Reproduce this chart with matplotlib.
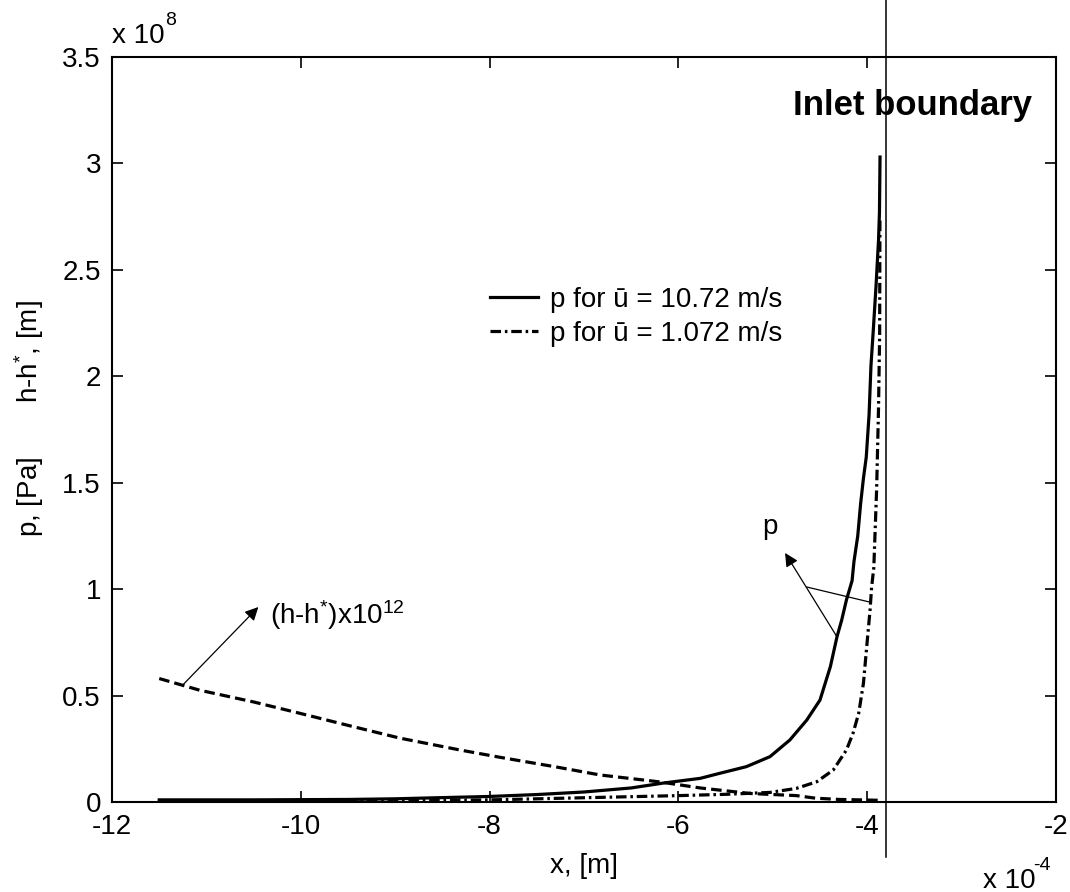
import matplotlib
matplotlib.use("Agg")
import matplotlib.pyplot as plt

plt.rcParams["font.family"] = ["Liberation Sans", "DejaVu Sans"]
plt.rcParams["font.size"] = 20
plt.rcParams["mathtext.fontset"] = "custom"
plt.rcParams["mathtext.rm"] = "Liberation Sans"
plt.rcParams["mathtext.it"] = "Liberation Sans:italic"
plt.rcParams["mathtext.bf"] = "Liberation Sans:bold"

# x in units of 1e-4 m, pressure in units of 1e8 Pa
x_fast = [-11.5, -10.5, -9.5, -9.0, -8.56, -8.0, -7.5, -7.0, -6.5, -6.16, -5.77,
          -5.56, -5.28, -5.03, -4.82, -4.64, -4.5, -4.39, -4.32, -4.27, -4.22,
          -4.16, -4.14, -4.10, -4.07, -4.04, -4.01, -3.98, -3.96, -3.935, -3.907,
          -3.88, -3.87, -3.864]
p_fast = [0.01, 0.01, 0.012, 0.015, 0.02, 0.026, 0.035, 0.047, 0.066, 0.089, 0.111,
          0.135, 0.166, 0.213, 0.291, 0.385, 0.479, 0.636, 0.776, 0.855, 0.949,
          1.04, 1.13, 1.25, 1.40, 1.52, 1.62, 1.82, 2.05, 2.22, 2.42,
          2.64, 2.77, 3.03]

x_slow = [-11.5, -10.0, -9.0, -8.5, -8.0, -7.0, -6.0, -5.5, -5.03, -4.75, -4.535,
          -4.36, -4.22, -4.15, -4.09, -4.04, -4.005, -3.97, -3.953, -3.93, -3.90,
          -3.88, -3.868, -3.865]
p_slow = [0.004, 0.005, 0.006, 0.008, 0.01, 0.02, 0.03, 0.036, 0.045, 0.064, 0.095,
          0.15, 0.244, 0.323, 0.417, 0.557, 0.73, 0.9, 1.01, 1.1, 1.47,
          1.85, 2.2, 2.75]

# film thickness deviation, scaled by 1e12
x_film = [-11.5, -11.07, -10.5, -10.04, -9.5, -8.95, -8.31, -7.89, -7.3, -6.83,
          -6.19, -5.77, -5.24, -4.75, -4.55, -4.3, -3.87]
h_film = [0.58, 0.525, 0.47, 0.42, 0.36, 0.30, 0.244, 0.21, 0.165, 0.127,
          0.094, 0.066, 0.04, 0.03, 0.018, 0.012, 0.008]

x_inlet = -3.8

x_ticks = [-12, -10, -8, -6, -4, -2]
y_ticks = [0, 0.5, 1, 1.5, 2, 2.5, 3, 3.5]
y_tick_labels = ["0", "0.5", "1", "1.5", "2", "2.5", "3", "3.5"]

fig = plt.figure(figsize=(10.7, 8.92), dpi=100)
ax = fig.add_axes([0.1047, 0.1009, 0.8822, 0.8352])

ax.plot(x_fast, p_fast, color="k", lw=2.3, label="p for ū = 10.72 m/s")
ax.plot(x_slow, p_slow, color="k", lw=2.3, linestyle=(0, (3.3, 1.2, 0.8, 1.2)),
        label="p for ū = 1.072 m/s")
ax.plot(x_film, h_film, color="k", lw=2.3, linestyle=(0, (3.3, 1.6)))

# inlet boundary, running past the frame on both ends
ax.plot([x_inlet, x_inlet], [-0.26, 3.8], color="k", lw=1.1, clip_on=False)
ax.text(-4.79, 3.27, "Inlet boundary", fontsize=25, fontweight="bold",
        ha="left", va="center")

arrow = dict(arrowstyle="-|>", color="k", lw=0.9, mutation_scale=20,
             shrinkA=0, shrinkB=0)
ax.annotate("", xy=(-10.45, 0.916), xytext=(-11.25, 0.55), arrowprops=arrow)
ax.text(-10.33, 0.88, "(h-h$^{*}$)x10$^{12}$", ha="left", va="center")

ax.annotate("", xy=(-4.87, 1.17), xytext=(-4.32, 0.776), arrowprops=arrow)
ax.plot([-4.64, -3.98], [1.01, 0.94], color="k", lw=0.9)
ax.text(-5.03, 1.29, "p", ha="center", va="center")

ax.legend(loc="upper left", bbox_to_anchor=(0.4004, 0.6912), frameon=False,
          borderpad=0, borderaxespad=0, handlelength=1.73, handletextpad=0.43,
          labelspacing=0.29, fontsize=20)

ax.set_xlim(-12, -2)
ax.set_ylim(0, 3.5)
ax.set_xticks(x_ticks)
ax.set_xticklabels([str(t) for t in x_ticks])
ax.set_yticks(y_ticks)
ax.set_yticklabels(y_tick_labels)
ax.tick_params(direction="in", length=8, width=1.2, top=True, right=True,
               labelsize=20)
ax.tick_params(axis="x", pad=9)
ax.tick_params(axis="y", pad=8)
for spine in ax.spines.values():
    spine.set_linewidth(1.5)

ax.set_xlabel("x, [m]")
ax.xaxis.set_label_coords(0.5, -0.068)
ax.set_ylabel("p, [Pa]       h-h$^{*}$, [m]")
ax.yaxis.set_label_coords(-0.070, 0.515)

# axis multipliers, exponent drawn as a raised smaller label
ax.text(0.0, 1.0188, "x 10", transform=ax.transAxes, ha="left", va="baseline")
ax.text(0.0561, 1.043, "8", transform=ax.transAxes, ha="left", va="baseline",
        fontsize=14)
ax.text(0.9227, -0.1154, "x 10", transform=ax.transAxes, ha="left",
        va="baseline")
ax.text(0.9756, -0.0913, "-4", transform=ax.transAxes, ha="left",
        va="baseline", fontsize=14)

fig.savefig("out.png", dpi=100)
